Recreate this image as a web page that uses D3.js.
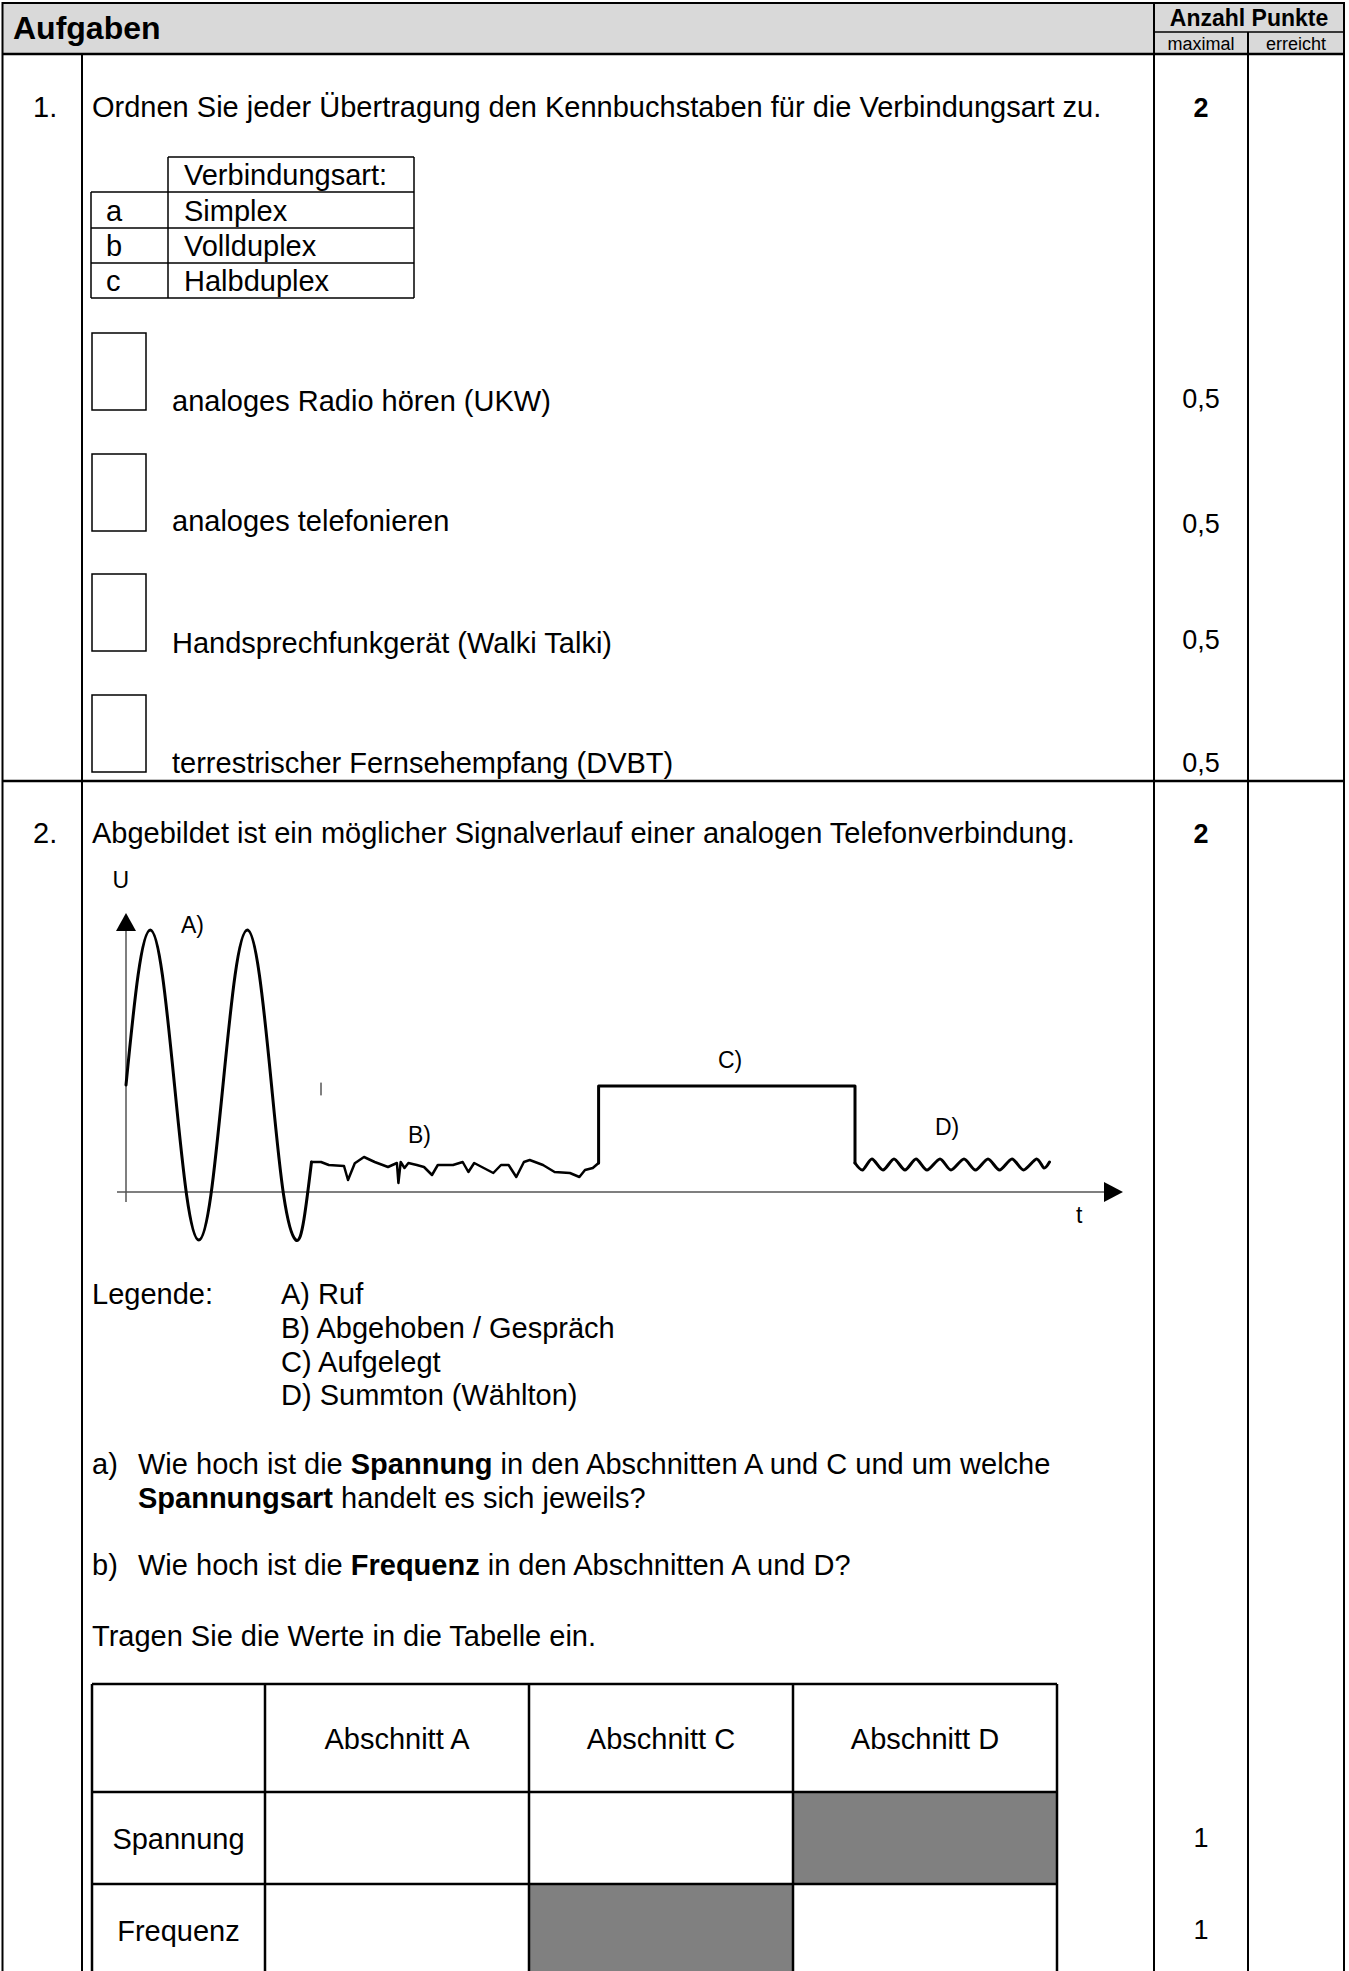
<!DOCTYPE html>
<html><head><meta charset="utf-8">
<script src="https://cdn.jsdelivr.net/npm/d3@7"></script>
<style>
html,body{margin:0;padding:0;background:#fff;}
svg{display:block;}
text{font-family:"Liberation Sans",Arial,Helvetica,sans-serif;fill:#000;white-space:pre;}
</style></head><body>
<script>
// ---------- data ----------
const headerTitle = "Aufgaben";
const pointsHeader = ["Anzahl Punkte", "maximal", "erreicht"];
const taskNumbers = ["1.", "2."];
const taskTexts = [
  "Ordnen Sie jeder Übertragung den Kennbuchstaben für die Verbindungsart zu.",
  "Abgebildet ist ein möglicher Signalverlauf einer analogen Telefonverbindung."
];
const taskMaxPoints = ["2", "2"];
const connectionHeader = "Verbindungsart:";
const connectionCodes = ["a", "b", "c"];
const connectionTypes = ["Simplex", "Vollduplex", "Halbduplex"];
const transmissionItems = [
  "analoges Radio hören (UKW)",
  "analoges telefonieren",
  "Handsprechfunkgerät (Walki Talki)",
  "terrestrischer Fernsehempfang (DVBT)"
];
const transmissionPoints = ["0,5", "0,5", "0,5", "0,5"];

// signal course (t: time units, U: voltage units)
const ringT = [0, 12.1, 24.3, 36.4, 48.5, 60.6, 72.8, 84.9, 97, 109.1, 121.3, 133.4, 145.5, 157.6, 169.8, 178, 185.5];
const ringU = [107, 217, 262, 217, 107, -3, -48, -3, 107, 217, 262, 217, 107, -3, -48, -27, 30];
const talkT = [185.5, 195, 202.8, 218, 222, 228.8, 238, 248.7, 262, 270.9, 272.4, 274.7, 278.5, 282.4, 290.8, 298, 306, 311.8, 327, 336.7, 342.4, 348.2, 367.3, 375, 382.6, 390.3, 397.9, 403.7, 417, 428.6, 443.9, 453.4, 459, 466.8, 472.6];
const talkU = [30, 30, 27, 26, 12, 28.7, 35, 30, 25, 29, 9, 30, 24, 29, 27, 25, 17, 27, 27, 30, 20, 29, 19, 27, 27, 15, 30, 32, 27, 20, 19, 15, 22, 24, 29];
const onHookT = [472.6, 472.6, 729, 729];
const onHookU = [29, 106, 106, 29];
const dialT = [729, 736.6, 745.9, 757, 768, 779, 790, 801, 814, 825, 838, 849.5, 862, 873.5, 886, 897.5, 910.5, 918, 923.5];
const dialU = [29, 22, 33, 22, 33, 22, 33, 22, 33, 22, 33, 22, 33, 22, 33, 22, 33, 24, 30];
const strayMarkT = [195, 195];
const strayMarkU = [97, 109];
const sectionLabels = ["A)", "B)", "C)", "D)"];
const axisLabels = ["U", "t"];

const legendTitle = "Legende:";
const legendItems = ["A) Ruf", "B) Abgehoben / Gespräch", "C) Aufgelegt", "D) Summton (Wählton)"];
const questionLines = [
  [["a)", false]],
  [["Wie hoch ist die ", false], ["Spannung", true], [" in den Abschnitten A und C und um welche", false]],
  [["Spannungsart", true], [" handelt es sich jeweils?", false]],
  [["b)", false]],
  [["Wie hoch ist die ", false], ["Frequenz", true], [" in den Abschnitten A und D?", false]],
  [["Tragen Sie die Werte in die Tabelle ein.", false]]
];
const tableColumns = ["Abschnitt A", "Abschnitt C", "Abschnitt D"];
const tableRows = ["Spannung", "Frequenz"];
const tableRowPoints = ["1", "1"];
const shadedCells = [[0, 2], [1, 1]]; // [row, column]

// ---------- drawing ----------
const W = 1349, H = 1971;
const svg = d3.select("body").append("svg").attr("width", W).attr("height", H);
svg.append("rect").attr("width", W).attr("height", H).attr("fill", "#fff");

const FS = 29;
function line(x1, y1, x2, y2, w, c) {
  svg.append("line").attr("x1", x1).attr("y1", y1).attr("x2", x2).attr("y2", y2)
    .attr("stroke", c || "#000").attr("stroke-width", w || 2);
}
function txt(s, x, y, opt) {
  opt = opt || {};
  return svg.append("text").attr("x", x).attr("y", y).text(s)
    .attr("font-size", opt.size || FS)
    .attr("font-weight", opt.bold ? "bold" : null)
    .attr("text-anchor", opt.anchor || "start");
}

// main frame
const L = 2.5, R = 1344, C1 = 82, C2 = 1154, C3 = 1248;
svg.append("rect").attr("x", L).attr("y", 3).attr("width", R - L).attr("height", 51).attr("fill", "#d9d9d9");
line(L, 3, R, 3, 2);
line(L, 54, R, 54, 2.5);
line(C2, 32, R, 32, 1.5);
line(L, 2, L, H, 2);
line(R, 2, R, H, 2);
line(C1, 54, C1, H, 2);
line(C2, 2, C2, H, 2);
line(C3, 32, C3, H, 2);
line(L, 781, R, 781, 2.5);

txt(headerTitle, 13, 39, {size: 32, bold: true});
txt(pointsHeader[0], (C2 + R) / 2, 26, {size: 23, bold: true, anchor: "middle"});
txt(pointsHeader[1], (C2 + C3) / 2, 50, {size: 18, anchor: "middle"});
txt(pointsHeader[2], (C3 + R) / 2, 50, {size: 18, anchor: "middle"});

// task rows
const taskBase = [117, 843];
taskNumbers.forEach((n, i) => {
  txt(n, 33, taskBase[i]);
  txt(taskTexts[i], 92, taskBase[i]);
  txt(taskMaxPoints[i], (C2 + C3) / 2, taskBase[i], {size: 27, bold: true, anchor: "middle"});
});

// connection type table
const tX = [91, 168, 414], tY = [157, 192, 228, 263, 298];
line(tX[1], tY[0], tX[2], tY[0], 1.5);
line(tX[1], tY[0], tX[1], tY[4], 1.5);
line(tX[2], tY[0], tX[2], tY[4], 1.5);
line(tX[0], tY[1], tX[0], tY[4], 1.5);
for (let k = 1; k < 5; k++) line(tX[0], tY[k], tX[2], tY[k], 1.5);
txt(connectionHeader, 184, tY[1] - 7);
connectionCodes.forEach((c, i) => {
  txt(c, 106, tY[i + 2] - 7);
  txt(connectionTypes[i], 184, tY[i + 2] - 7);
});

// answer boxes + items
const boxTop = [333, 454, 574, 695], itemBase = [411, 531, 653, 773], ptsBase = [408, 533, 649, 772];
transmissionItems.forEach((s, i) => {
  svg.append("rect").attr("x", 92).attr("y", boxTop[i]).attr("width", 54).attr("height", 77)
    .attr("fill", "none").attr("stroke", "#000").attr("stroke-width", 1.5);
  txt(s, 172, itemBase[i]);
  txt(transmissionPoints[i], (C2 + C3) / 2, ptsBase[i], {size: 27, anchor: "middle"});
});

// ---------- signal chart ----------
const x = d3.scaleLinear().domain([0, 1000]).range([126, 1126]);
const y = d3.scaleLinear().domain([0, 100]).range([1192, 1092]);
const g = svg.append("g");
// axes
g.append("line").attr("x1", x(-9)).attr("x2", x(979)).attr("y1", y(0)).attr("y2", y(0))
  .attr("stroke", "#555").attr("stroke-width", 1.5);
g.append("path").attr("d", `M${x(997)},${y(0)}L${x(978)},${y(0) - 10}L${x(978)},${y(0) + 10}Z`).attr("fill", "#000");
g.append("line").attr("x1", x(0)).attr("x2", x(0)).attr("y1", y(-10)).attr("y2", y(261))
  .attr("stroke", "#555").attr("stroke-width", 1.5);
g.append("path").attr("d", `M${x(0)},${y(279)}L${x(0) - 10},${y(261)}L${x(0) + 10},${y(261)}Z`).attr("fill", "#000");

const zip = (a, b) => a.map((v, i) => [v, b[i]]);
const gen = c => d3.line().x(d => x(d[0])).y(d => y(d[1])).curve(c);
const sig = {fill: "none", stroke: "#000", "stroke-width": 3, "stroke-linejoin": "round", "stroke-linecap": "round"};
function sigPath(d, curve, w) {
  const p = g.append("path").attr("d", gen(curve)(d));
  Object.entries(sig).forEach(([k, v]) => p.attr(k, v));
  if (w) p.attr("stroke-width", w);
}
sigPath(zip(ringT, ringU), d3.curveNatural);
sigPath(zip(talkT, talkU), d3.curveLinear, 2.5);
sigPath(zip(onHookT, onHookU), d3.curveLinear, 3);
sigPath(zip(dialT, dialU), d3.curveCardinal.tension(0.2), 3);
sigPath(zip(strayMarkT, strayMarkU), d3.curveLinear, 1);

const labelPos = [[55, 259], [282, 49], [592, 124], [809, 57]];
sectionLabels.forEach((s, i) => txt(s, x(labelPos[i][0]), y(labelPos[i][1]), {size: 23}));
txt(axisLabels[0], x(-13.5), y(304), {size: 23});
txt(axisLabels[1], x(950), y(-31), {size: 23});

// legend
txt(legendTitle, 92, 1304);
const legBase = [1304, 1338, 1372, 1405];
legendItems.forEach((s, i) => txt(s, 281, legBase[i]));

// questions
const qPos = [[92, 1474], [138, 1474], [138, 1508], [92, 1575], [138, 1575], [92, 1646]];
questionLines.forEach((parts, i) => {
  const t = svg.append("text").attr("x", qPos[i][0]).attr("y", qPos[i][1]).attr("font-size", FS);
  parts.forEach(([s, b]) => t.append("tspan").text(s).attr("font-weight", b ? "bold" : null));
});

// answer table
const aX = [92, 265, 529, 793, 1057], aY = [1684, 1792, 1884, 1990];
shadedCells.forEach(([r, c]) => {
  svg.append("rect").attr("x", aX[c + 1]).attr("y", aY[r + 1]).attr("width", aX[c + 2] - aX[c + 1])
    .attr("height", aY[r + 2] - aY[r + 1]).attr("fill", "#808080");
});
aY.forEach(v => line(aX[0], v, aX[4], v, 2.5));
aX.forEach(v => line(v, aY[0], v, aY[3], 2.5));
tableColumns.forEach((s, i) => txt(s, (aX[i + 1] + aX[i + 2]) / 2, 1749, {anchor: "middle"}));
const rowBase = [1849, 1941];
tableRows.forEach((s, i) => {
  txt(s, (aX[0] + aX[1]) / 2, rowBase[i], {anchor: "middle"});
  txt(tableRowPoints[i], (C2 + C3) / 2, rowBase[i] - 2, {size: 27, anchor: "middle"});
});
</script>
</body></html>
